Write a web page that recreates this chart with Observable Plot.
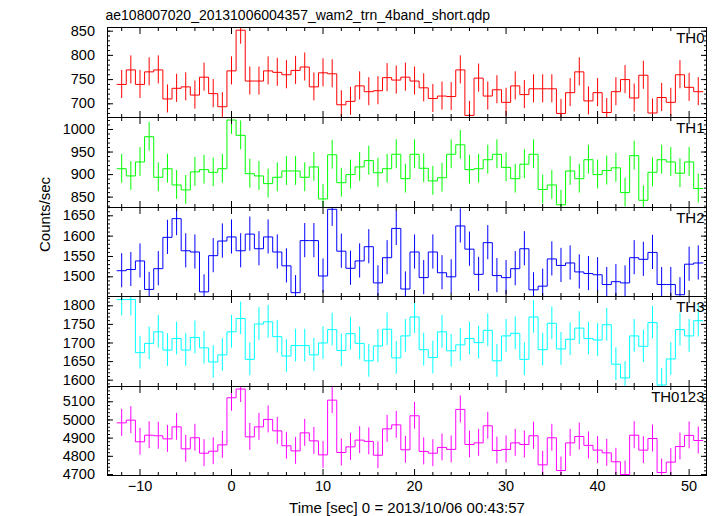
<!DOCTYPE html>
<html>
<head>
<meta charset="utf-8">
<script src="https://cdn.jsdelivr.net/npm/d3@7"></script>
<script src="https://cdn.jsdelivr.net/npm/@observablehq/plot@0.6"></script>
<style>
  html, body { margin: 0; padding: 0; background: #fff; }
  #chart { position: relative; width: 717px; height: 516px; overflow: hidden; background: #fff; }
  #chart svg { position: absolute; left: 0; }
</style>
</head>
<body>
<div id="chart"></div>
<script>
// ---- data ----
const title = "ae108007020_20131006004357_wam2_trn_4band_short.qdp";
const xLabel = "Time [sec] 0 = 2013/10/06 00:43:57";
const yLabel = "Counts/sec";
const names = ["TH0", "TH1", "TH2", "TH3", "TH0123"];
const colors = ["#ff0000", "#00ff00", "#0000ff", "#00ffff", "#ff00ff"];

const times = [-12,-11,-10,-9,-8,-7,-6,-5,-4,-3,-2,-1,0,1,2,3,4,5,6,7,8,9,10,11,12,13,14,15,16,17,18,19,
  20,21,22,23,24,25,26,27,28,29,30,31,32,33,34,35,36,37,38,39,40,41,42,43,44,45,46,47,48,49,50,51];

const th0 = [740,770,740,766,770,710,732,735,718,755,721,694,768,852,747,747,768,765,760,769,776,735,764,762,698,705,737,725,727,754,749,755,
  747,733,711,716,715,770,676,753,716,729,703,737,719,731,731,731,680,723,766,706,723,682,725,750,712,759,681,713,703,760,734,725];
const th1 = [913,897,928,984,894,913,877,866,906,911,905,913,1021,987,902,897,880,894,908,908,894,917,846,944,882,900,917,931,904,913,945,891,
  945,914,886,893,945,966,911,913,933,945,916,891,923,945,867,877,833,908,891,933,900,909,915,860,942,843,905,933,928,903,928,869];
const th2 = [1515,1518,1539,1469,1520,1597,1643,1564,1561,1463,1552,1588,1598,1564,1605,1569,1598,1561,1527,1461,1589,1589,1502,1666,1563,1521,1539,1574,1485,1547,1619,1470,
  1561,1498,1561,1510,1500,1625,1568,1506,1584,1503,1498,1520,1569,1468,1477,1544,1528,1534,1512,1508,1505,1481,1488,1485,1547,1543,1560,1481,1481,1456,1531,1534];
const th3 = [1817,1817,1674,1699,1730,1681,1712,1681,1715,1687,1649,1668,1730,1766,1656,1751,1757,1717,1665,1693,1693,1668,1700,1736,1680,1725,1699,1652,1692,1737,1660,1719,
  1770,1682,1661,1730,1679,1695,1712,1701,1734,1652,1719,1726,1656,1770,1682,1753,1684,1710,1740,1712,1708,1749,1643,1606,1719,1691,1755,1587,1657,1736,1719,1760];
const th0123 = [4984,4999,4880,4916,4913,4896,4962,4841,4902,4817,4828,4863,5122,5170,4907,4962,5003,4940,4858,4830,4929,4885,4808,5109,4821,4852,4889,4882,4806,4951,4973,4836,
  5023,4827,4817,4849,4838,5058,4865,4874,4968,4832,4838,4874,4865,4913,4753,4902,4722,4874,4909,4860,4834,4819,4770,4700,4916,4834,4898,4711,4768,4854,4915,4887];
const series = [th0, th1, th2, th3, th0123];
const errors = [29, 32, 42, 44, 74];   // 1-sigma error per panel (counts/sec)

const xDomain = [-13.55, 51.9];
const xMajor = [-10, 0, 10, 20, 30, 40, 50];
const xMinor = [-12,-8,-6,-4,-2,2,4,6,8,12,14,16,18,22,24,26,28,32,34,36,38,42,44,46,48];
const yDomains = [[671.7, 857.6], [827, 1026.6], [1451.6, 1670.4], [1583, 1825], [4694.5, 5184]];
const yMajor = [[700,750,800,850],[850,900,950,1000],[1500,1550,1600,1650],[1600,1650,1700,1750,1800],[4700,4800,4900,5000,5100]];
const yMinorStep = [10, 10, 10, 10, 20];

// ---- layout ----
const panelTops = [27, 117, 207, 296, 386];
const panelBottoms = [117, 207, 296, 386, 475];
const W = 717, ML = 107, MR = 11;
const font = '"Liberation Sans", Arial, Helvetica, sans-serif';
const blank = () => "";
const intFmt = d3.format("d");
const xFmt = d => (d < 0 ? "\u2212" + Math.abs(d) : String(d));

const chart = document.getElementById("chart");

series.forEach((vals, i) => {
  const last = i === series.length - 1;
  const data = times.map((t, k) => ({t, v: vals[k]}));
  const steps = data.flatMap(d => [{t: d.t - 0.5, v: d.v}, {t: d.t + 0.5, v: d.v}]);
  const e = errors[i];
  const [y0, y1] = yDomains[i];
  const yMinor = d3.range(Math.ceil(y0 / yMinorStep[i]) * yMinorStep[i], y1, yMinorStep[i]);
  const h = panelBottoms[i] - panelTops[i];
  const marks = [
    Plot.line(steps, {x: "t", y: "v", stroke: colors[i], strokeWidth: 1, clip: true}),
    Plot.ruleX(data, {x: "t", y1: d => d.v - e, y2: d => d.v + e, stroke: colors[i], strokeWidth: 1, clip: true}),
    // inward ticks, all four sides
    Plot.axisX({anchor: "bottom", ticks: xMajor, tickSize: 6, dy: -6, tickFormat: blank, label: null}),
    Plot.axisX({anchor: "bottom", ticks: xMinor, tickSize: 3, dy: -3, tickFormat: blank, label: null}),
    Plot.axisX({anchor: "top", ticks: xMajor, tickSize: 6, dy: 6, tickFormat: blank, label: null}),
    Plot.axisX({anchor: "top", ticks: xMinor, tickSize: 3, dy: 3, tickFormat: blank, label: null}),
    Plot.axisY({anchor: "left", ticks: yMajor[i], tickSize: 6, dx: 6, tickFormat: blank, label: null}),
    Plot.axisY({anchor: "left", ticks: yMinor, tickSize: 3, dx: 3, tickFormat: blank, label: null}),
    Plot.axisY({anchor: "right", ticks: yMajor[i], tickSize: 6, dx: -6, tickFormat: blank, label: null}),
    Plot.axisY({anchor: "right", ticks: yMinor, tickSize: 3, dx: -3, tickFormat: blank, label: null}),
    // y tick labels
    Plot.axisY({anchor: "left", ticks: yMajor[i], tickSize: 0, tickPadding: 12.5, tickFormat: intFmt, label: null, fontSize: 14.5, fill: "black"}),
    Plot.frame({stroke: "black", strokeWidth: 1}),
    Plot.text([names[i]], {text: d => d, frameAnchor: "top-right", textAnchor: "end", lineAnchor: "top", dx: -2, dy: 4.5, fontSize: 15, fill: "black"})
  ];
  if (i === 0) {
    marks.push(Plot.text([title], {text: d => d, frameAnchor: "top-left", textAnchor: "start", lineAnchor: "middle", dx: -2, dy: -11.5, fontSize: 14, fill: "black"}));
  }
  if (i === 2) {
    marks.push(Plot.text([yLabel], {text: d => d, frameAnchor: "left", dx: -62, rotate: -90, fontSize: 15, fill: "black"}));
  }
  if (last) {
    marks.push(Plot.axisX({anchor: "bottom", ticks: xMajor, tickSize: 0, tickPadding: 5, tickFormat: xFmt, label: null, fontSize: 14.5, fill: "black"}));
    marks.push(Plot.text([xLabel], {text: d => d, frameAnchor: "bottom", lineAnchor: "middle", dy: 33, fontSize: 15, fill: "black"}));
  }
  const svg = Plot.plot({
    width: W,
    height: h + (last ? 41 : 0),
    marginLeft: ML,
    marginRight: MR,
    marginTop: 0,
    marginBottom: last ? 41 : 0,
    style: {fontFamily: font, fontSize: "14px", background: "transparent", overflow: "visible", color: "black"},
    x: {domain: xDomain},
    y: {domain: yDomains[i]},
    marks
  });
  svg.style.position = "absolute";
  svg.style.top = panelTops[i] + "px";
  svg.style.left = "0px";
  chart.appendChild(svg);
});
</script>
</body>
</html>
